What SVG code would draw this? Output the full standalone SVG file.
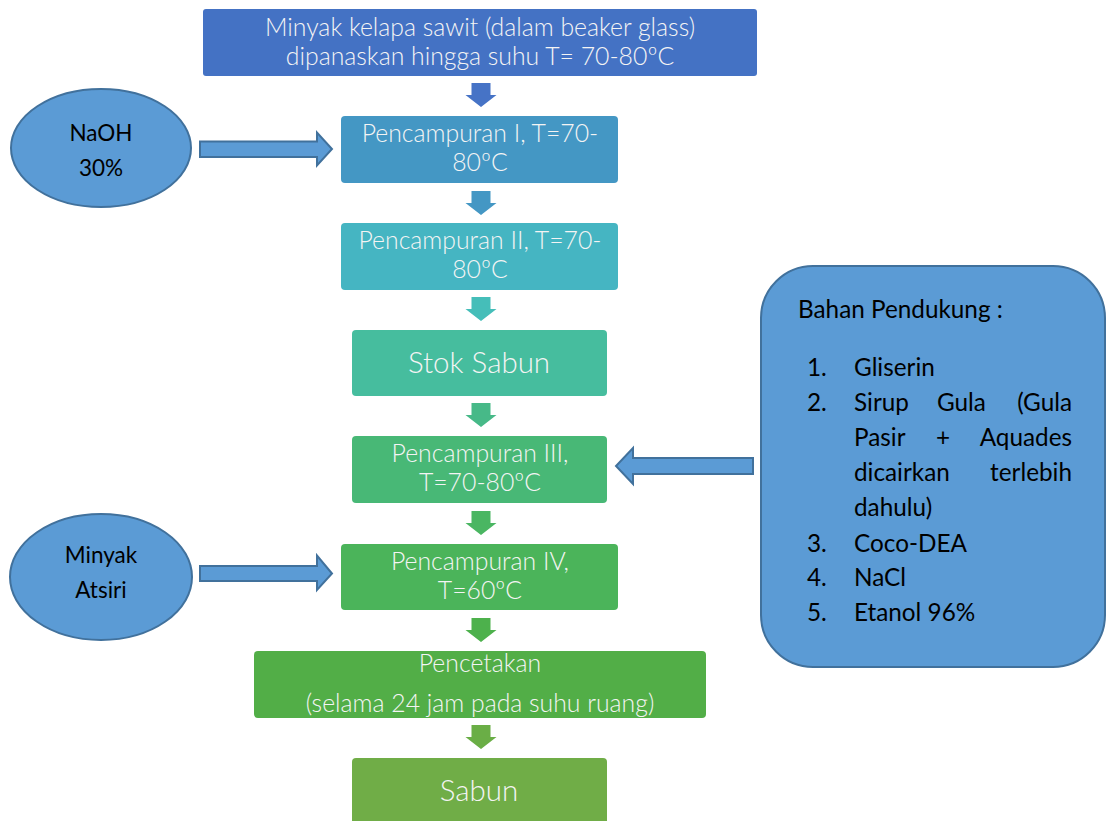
<svg xmlns="http://www.w3.org/2000/svg" width="1107" height="821" viewBox="0 0 1107 821">
<style>
.box text{font-family:Lato,"Open Sans",sans-serif;font-weight:300;fill:#F4F4F4;text-anchor:middle;font-size:24.8px}
.big text{font-size:29.5px}
.ell{fill:#5B9BD5;stroke:#41719C;stroke-width:2}
.et{font-family:Lato,"Open Sans",sans-serif;fill:#000;text-anchor:middle;font-size:22.5px}
.lt{font-family:Lato,"Open Sans",sans-serif;fill:#000;font-size:24.3px}
.side{fill:#5B9BD5;stroke:#41719C;stroke-width:2}
</style>
<defs>
<path id="dn" d="M-9.5,0 H9.5 V12 H15.5 L0,24 L-15.5,12 H-9.5 Z"/>
</defs>
<rect width="1107" height="821" fill="#fff"/>
<g id="connectors">
<use href="#dn" x="481" y="83" fill="#4673C6"/>
<use href="#dn" x="481" y="191" fill="#4497C4"/>
<use href="#dn" x="481" y="297" fill="#45BEB9"/>
<use href="#dn" x="481" y="403" fill="#47B988"/>
<use href="#dn" x="481" y="511" fill="#4AB662"/>
<use href="#dn" x="481" y="618" fill="#4DB14C"/>
<use href="#dn" x="481" y="725" fill="#6AAE46"/>
<path class="side" d="M200,141.5 H317 V132.5 L332,149 L317,165.5 V157 H200 Z"/>
<path class="side" d="M200,566 H317 V555.5 L332,573.5 L317,590 V581 H200 Z"/>
<path class="side" d="M753,458 H633 V448 L616,466 L633,484 V474 H753 Z"/>
</g>
<g id="n1" class="box">
<rect x="203" y="9" width="554" height="67" rx="3" fill="#4472C4"/>
<text x="480" y="36">Minyak kelapa sawit (dalam beaker glass)</text>
<text x="480" y="65">dipanaskan hingga suhu T= 70-80ºC</text>
</g>
<g id="n2" class="box">
<rect x="341" y="116" width="277" height="67" rx="4" fill="#4497C4"/>
<text x="480" y="142">Pencampuran I, T=70-</text>
<text x="480" y="171">80ºC</text>
</g>
<g id="n3" class="box">
<rect x="341" y="223" width="277" height="67" rx="4" fill="#45B5C2"/>
<text x="480" y="249">Pencampuran II, T=70-</text>
<text x="480" y="278">80ºC</text>
</g>
<g id="n4" class="box big">
<rect x="352" y="330" width="255" height="66" rx="4" fill="#46BD9E"/>
<text x="479" y="373">Stok Sabun</text>
</g>
<g id="n5" class="box">
<rect x="352" y="436" width="255" height="67" rx="4" fill="#48B876"/>
<text x="480" y="462">Pencampuran III,</text>
<text x="480" y="491">T=70-80ºC</text>
</g>
<g id="n6" class="box">
<rect x="341" y="544" width="277" height="66" rx="4" fill="#4BB45A"/>
<text x="480" y="570">Pencampuran IV,</text>
<text x="480" y="599">T=60ºC</text>
</g>
<g id="n7" class="box">
<rect x="254" y="651" width="452" height="67" rx="4" fill="#52AE47"/>
<text x="480" y="672">Pencetakan</text>
<text x="480" y="712">(selama 24 jam pada suhu ruang)</text>
</g>
<g id="n8" class="box big">
<rect x="352" y="758" width="255" height="70" rx="4" fill="#70AD47"/>
<text x="479" y="801">Sabun</text>
</g>
<g id="naoh">
<ellipse class="ell" cx="101" cy="148" rx="90" ry="59"/>
<text class="et" x="101" y="141">NaOH</text>
<text class="et" x="101" y="176">30%</text>
</g>
<g id="atsiri">
<ellipse class="ell" cx="101" cy="577" rx="91" ry="63"/>
<text class="et" x="101" y="563">Minyak</text>
<text class="et" x="101" y="598">Atsiri</text>
</g>
<g id="pendukung">
<rect class="side" x="761" y="266" width="344" height="401" rx="52"/>
<text class="lt" x="798" y="318">Bahan Pendukung :</text>
<text class="lt" x="807" y="376">1.</text><text class="lt" x="854" y="376">Gliserin</text>
<text class="lt" x="807" y="411">2.</text><text class="lt" x="854" y="411">Sirup</text><text class="lt" x="937" y="411">Gula</text><text class="lt" x="1072" y="411" text-anchor="end">(Gula</text>
<text class="lt" x="854" y="446">Pasir</text><text class="lt" x="936" y="446">+</text><text class="lt" x="1072" y="446" text-anchor="end">Aquades</text>
<text class="lt" x="854" y="481">dicairkan</text><text class="lt" x="1072" y="481" text-anchor="end">terlebih</text>
<text class="lt" x="854" y="516">dahulu)</text>
<text class="lt" x="807" y="552">3.</text><text class="lt" x="854" y="552">Coco-DEA</text>
<text class="lt" x="807" y="586">4.</text><text class="lt" x="854" y="586">NaCl</text>
<text class="lt" x="807" y="621">5.</text><text class="lt" x="854" y="621">Etanol 96%</text>
</g>
</svg>
